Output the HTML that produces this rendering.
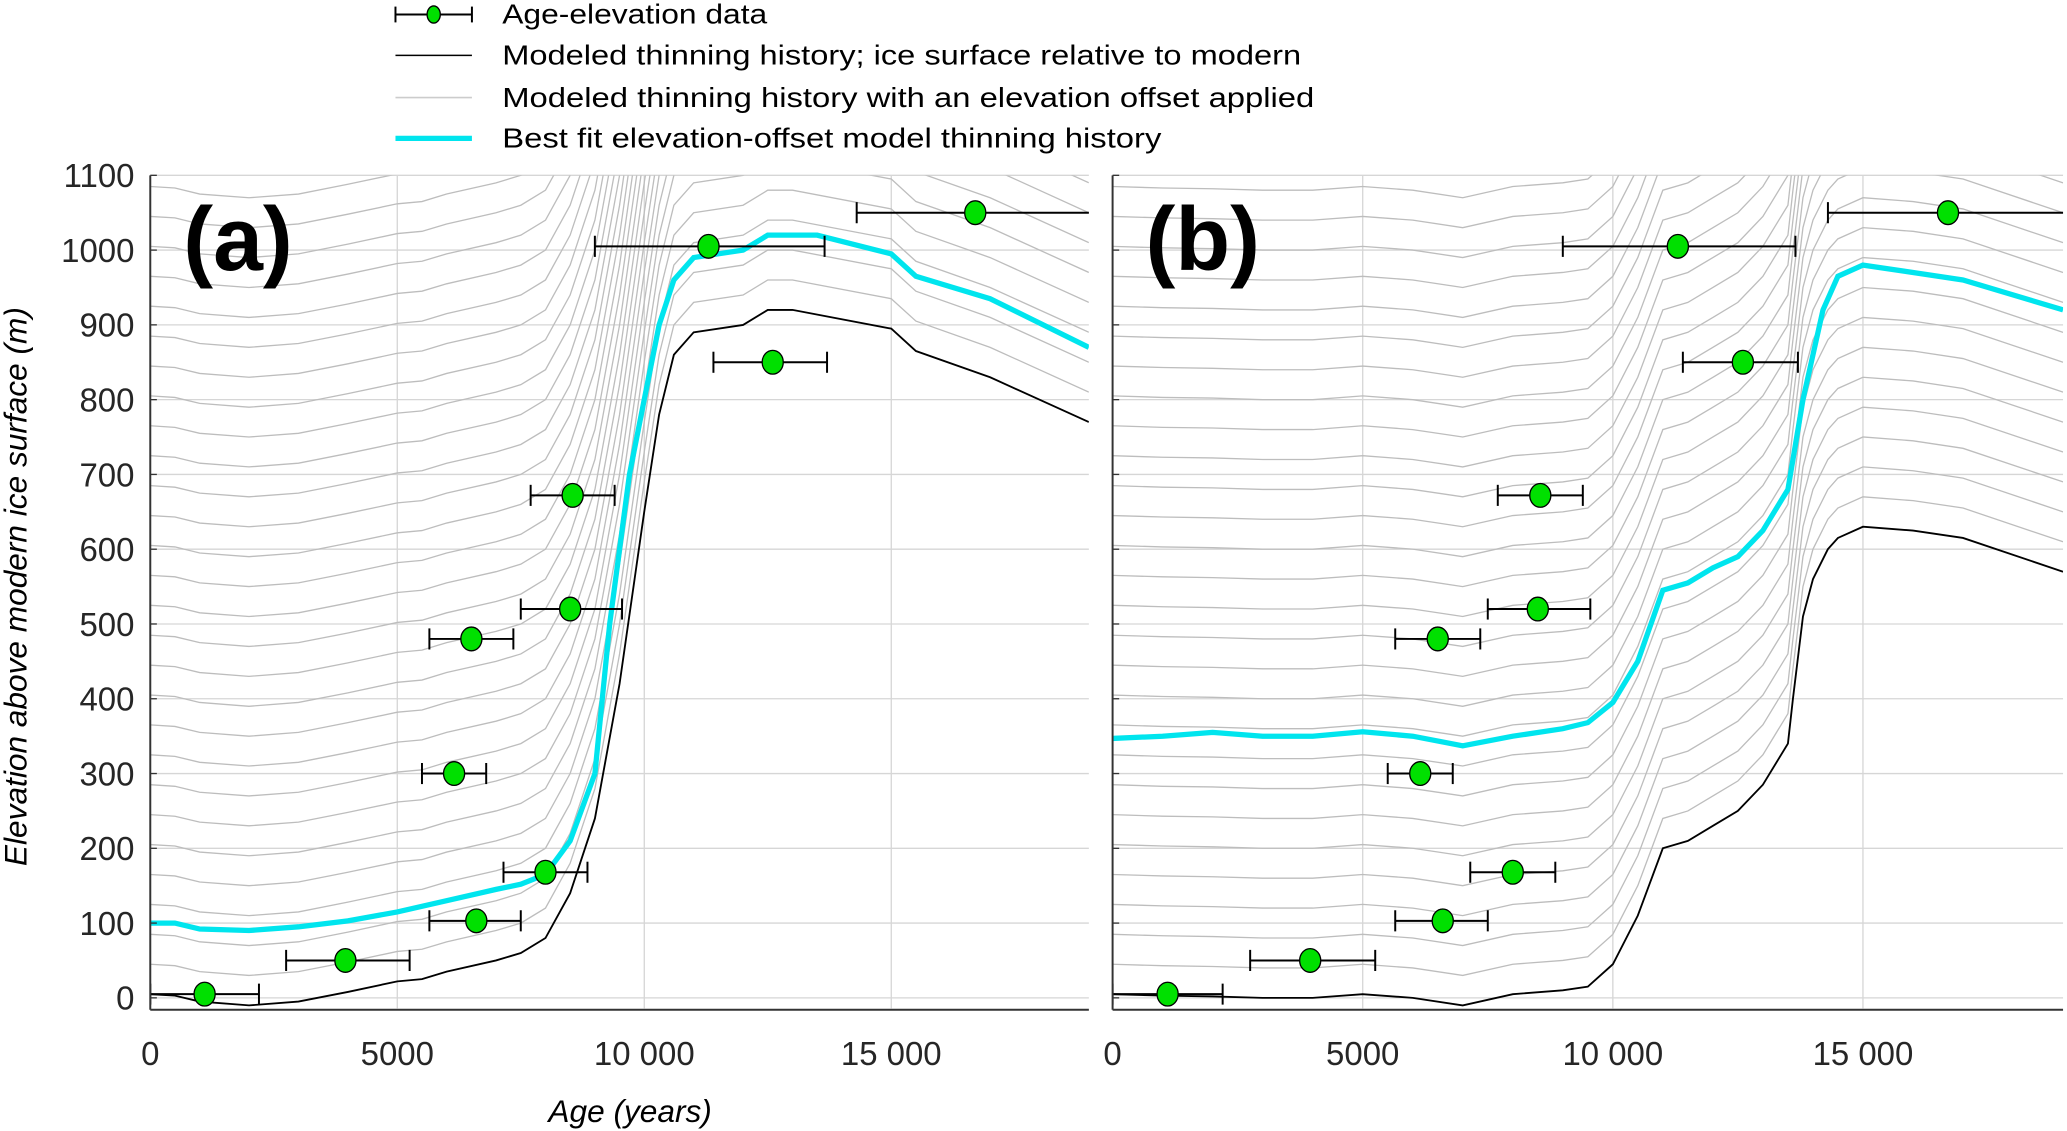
<!DOCTYPE html>
<html><head><meta charset="utf-8"><style>
html,body{margin:0;padding:0;background:#fff;overflow:hidden}
svg{display:block}
text{font-family:"Liberation Sans",sans-serif}
</style></head><body>
<svg id="chart" width="2067" height="1131" viewBox="0 0 1568 858" preserveAspectRatio="none" xmlns="http://www.w3.org/2000/svg">
<g id="legend">
  <g>
    <line x1="300" y1="11" x2="358" y2="11" stroke="#000" stroke-width="1.5"/>
    <line x1="300" y1="5" x2="300" y2="17" stroke="#000" stroke-width="1.5"/>
    <line x1="358" y1="5" x2="358" y2="17" stroke="#000" stroke-width="1.5"/>
    <ellipse cx="329" cy="11" rx="5" ry="6.5" fill="#00e000" stroke="#000"/>
    <text x="381" y="18" font-size="21" textLength="201" lengthAdjust="spacingAndGlyphs">Age-elevation data</text>
  </g>
  <g>
    <line x1="300" y1="42" x2="358" y2="42" stroke="#000" stroke-width="1.2"/>
    <text x="381" y="49" font-size="21" textLength="606" lengthAdjust="spacingAndGlyphs">Modeled thinning history; ice surface relative to modern</text>
  </g>
  <g>
    <line x1="300" y1="74" x2="358" y2="74" stroke="#ccc" stroke-width="1.2"/>
    <text x="381" y="81" font-size="21" textLength="616" lengthAdjust="spacingAndGlyphs">Modeled thinning history with an elevation offset applied</text>
  </g>
  <g>
    <line x1="300" y1="105" x2="358" y2="105" stroke="#00e5ee" stroke-width="4"/>
    <text x="381" y="112" font-size="21" textLength="500" lengthAdjust="spacingAndGlyphs">Best fit elevation-offset model thinning history</text>
  </g>
</g>
<text transform="translate(20,445) rotate(-90)" text-anchor="middle" font-size="24" font-style="italic">Elevation above modern ice surface (m)</text>
<text x="478" y="851" text-anchor="middle" font-size="24" font-style="italic">Age (years)</text>
</svg>
<script>
// ---- data ----
const xTicks = [0, 5000, 10000, 15000];
const xTickLabels = ["0", "5000", "10 000", "15 000"];
const yTicks = [0,100,200,300,400,500,600,700,800,900,1000,1100];
const offsets = [40,80,120,160,200,240,280,320,360,400,440,480,520,560,600,640,680,720,760,800,840,880,920,960,1000,1040,1080,1120,1160];
const aModelAge  = [0,500,1000,2000,3000,4000,5000,5500,6000,7000,7500,8000,8500,9000,9500,10000,10300,10600,11000,12000,12500,13000,15000,15500,17000,19000];
const aModelElev = [5,3,-5,-10,-5,8,22,25,35,50,60,80,140,240,420,650,780,860,890,900,920,920,895,865,830,770];
const aFitAge  = [0,500,1000,2000,3000,4000,5000,6000,7000,7500,8000,8500,9000,9300,9700,10000,10300,10600,11000,12000,12500,13500,15000,15500,17000,19000];
const aFitElev = [100,100,92,90,95,103,115,130,145,152,165,210,300,500,700,800,900,960,990,1000,1020,1020,995,965,935,870];
const bModelAge  = [0,1000,2000,3000,4000,5000,6000,7000,8000,9000,9500,10000,10500,11000,11500,12000,12500,13000,13500,13600,13800,14000,14300,14500,15000,16000,17000,19000];
const bModelElev = [5,3,2,0,0,5,0,-10,5,10,15,45,110,200,210,230,250,285,340,400,510,560,600,615,630,625,615,570];
const bFitAge  = [0,1000,2000,3000,4000,5000,6000,7000,8000,9000,9500,10000,10500,11000,11500,12000,12500,13000,13500,13600,13800,14000,14200,14500,15000,16000,17000,19000];
const bFitElev = [347,350,355,350,350,356,350,337,350,360,368,395,450,545,555,575,590,625,680,720,800,860,920,965,980,970,960,920];
const ptAge  = [1100,3950,6150,6500,6600,8000,8500,8550,11300,12600,16700];
const ptElev = [5,50,300,480,103,168,520,672,1005,850,1050];
const ptLo   = [0,2750,5500,5650,5650,7150,7500,7700,9000,11400,14300];
const ptHi   = [2200,5250,6800,7350,7500,8850,9550,9400,13650,13700,19500];

const NS = "http://www.w3.org/2000/svg";
const svg = document.getElementById('chart');
function mk(tag, attrs, parent){const e=document.createElementNS(NS,tag);for(const k in attrs)e.setAttribute(k,attrs[k]);(parent||svg).appendChild(e);return e;}

function panel(id, x0, x19, showYLabels, label, mAge, mElev, fAge, fElev){
  const top=133, bot=757, xmax=19000, ymax=1100;
  const X = v => x0 + (x19-x0)*v/xmax;
  const Y = v => bot - (bot-top)*v/ymax;
  const g = mk('g',{});
  
  
  const cid='clip'+id;
  const cp = mk('clipPath',{id:cid},g); mk('rect',{x:x0,y:top,width:x19-x0,height:bot-top+8},cp);
  yTicks.forEach(t=>{const l=mk('line',{x1:x0,x2:x19,y1:Y(t),y2:Y(t),stroke:'#d6d6d6','stroke-width':1},g);
    
    });
  xTicks.slice(1).forEach(t=>{const l=mk('line',{x1:X(t),x2:X(t),y1:top,y2:bot+8,stroke:'#d6d6d6','stroke-width':1},g);
    
    });
  const cg = mk('g',{'clip-path':'url(#'+cid+')'},g);
  const path=(A,E,o)=>A.map((a,i)=>(i?'L':'M')+X(a).toFixed(1)+','+Y(E[i]+o).toFixed(1)).join('');
  offsets.forEach(o=>{const p=mk('path',{d:path(mAge,mElev,o),fill:'none',stroke:'#bdbdbd','stroke-width':1},cg);
    
    });
  const bl=mk('path',{d:path(mAge,mElev,0),fill:'none',stroke:'#000','stroke-width':1.4},cg);
  
  
  const cy=mk('path',{d:path(fAge,fElev,0),fill:'none',stroke:'#00e5ee','stroke-width':4},cg);
  
  
  ptAge.forEach((a,i)=>{
    const pg=mk('g',{},cg);
    
    
    const y=Y(ptElev[i]);
    mk('line',{x1:X(ptLo[i]),x2:X(ptHi[i]),y1:y,y2:y,stroke:'#000','stroke-width':1.5},pg);
    mk('line',{x1:X(ptLo[i]),x2:X(ptLo[i]),y1:y-8,y2:y+8,stroke:'#000','stroke-width':1.5},pg);
    mk('line',{x1:X(ptHi[i]),x2:X(ptHi[i]),y1:y-8,y2:y+8,stroke:'#000','stroke-width':1.5},pg);
    mk('ellipse',{cx:X(a),cy:y,rx:8,ry:9,fill:'#00e000',stroke:'#000','stroke-width':1},pg);
  });
  const ax=mk('line',{x1:x0,x2:x0,y1:top,y2:bot+9,stroke:'#333','stroke-width':1.5},g);
  
  
  const bx=mk('line',{x1:x0,x2:x19,y1:bot+9,y2:bot+9,stroke:'#333','stroke-width':1.5},g);
  
  
  yTicks.forEach(t=>{
    mk('line',{x1:x0,x2:x0+5,y1:Y(t),y2:Y(t),stroke:'#333'},g);
    if(showYLabels){const tx=mk('text',{x:x0-12,y:Y(t)+9,'text-anchor':'end','font-size':25,fill:'#262626'},g);
      tx.textContent=t;
      
      }
  });
  xTicks.forEach((t,i)=>{const tx=mk('text',{x:X(t),y:808,'text-anchor':'middle','font-size':25,fill:'#262626'},g);
    tx.textContent=xTickLabels[i];
    
    });
  const lb=mk('text',{x:x0+25,y:205,'font-size':68,'font-weight':'bold'},g);
  lb.textContent=label;
  
  
}
panel('a',114,826,true,'(a)',aModelAge,aModelElev,aFitAge,aFitElev);
panel('b',844,1565,false,'(b)',bModelAge,bModelElev,bFitAge,bFitElev);
</script>
</body></html>
